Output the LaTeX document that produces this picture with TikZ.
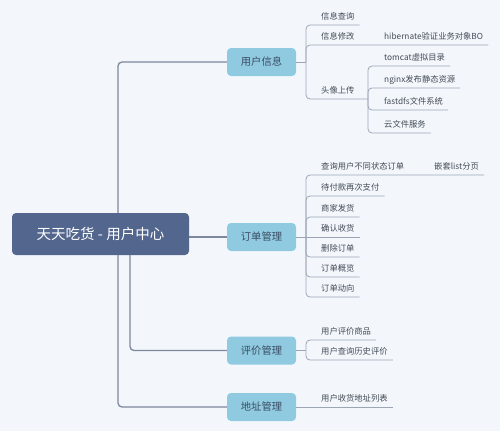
\documentclass[tikz,border=0pt]{standalone}
\usepackage{fontspec}
\setmainfont{Noto Sans CJK SC}
\definecolor{bgc}{HTML}{F3F7FC}
\definecolor{rootc}{HTML}{52668E}
\definecolor{mainc}{HTML}{8FCAE0}
\definecolor{maintext}{HTML}{3C4D63}
\definecolor{trunkc}{HTML}{7D889E}
\definecolor{twigc}{HTML}{9CA5B6}
\definecolor{leaftext}{HTML}{444B55}
\begin{document}
\begin{tikzpicture}[x=1pt,y=-1pt,
 trunk/.style={draw=trunkc, line width=1.3pt, rounded corners=4pt},
 twig/.style={draw=twigc, line width=0.8pt, rounded corners=4pt},
 rootbox/.style={fill=rootc, rounded corners=4pt, minimum width=177pt, minimum height=42pt, text=white, font=\fontsize{14.5}{16}\selectfont, inner sep=0pt},
 mainbox/.style={fill=mainc, rounded corners=4pt, minimum width=69pt, minimum height=28pt, text=maintext, font=\fontsize{10.3}{12}\selectfont, inner sep=0pt},
 leaf/.style={anchor=south west, inner xsep=5pt, inner ysep=5.5pt, text height=6pt, text depth=0pt, font=\fontsize{8.3}{10}\selectfont, text=leaftext},
]
\fill[bgc] (0,0) rectangle (500,431);
\useasboundingbox (0,0) rectangle (500,431);

% root and main nodes
\node[rootbox] (root) at (100.5,234) {天天吃货 - 用户中心};
\node[mainbox] (ui) at (261.5,62) {用户信息};
\node[mainbox] (order) at (261.5,237) {订单管理};
\node[mainbox] (eval) at (261.5,350.5) {评价管理};
\node[mainbox] (addr) at (261.5,407) {地址管理};

% trunk coordinates
\coordinate (ta) at (118,0);
\coordinate (tb) at (130,0);

\draw[trunk] (root.north -| ta) |- (ui.west);
\draw[trunk] (root.south -| ta) |- (addr.west);
\draw[trunk] (root.south -| tb) |- (eval.west);
\draw[trunk] (order.west -| root.east) -- (order.west);

% user info leaves
\coordinate (jU) at (306,62);
\coordinate (jA) at (368,99);
\node[leaf] (u1) at (316,25) {信息查询};
\node[leaf] (u2) at (316,45) {信息修改};
\node[leaf] (u2a) at (379,45) {hibernate验证业务对象BO};
\node[leaf] (u3) at (316,99) {头像上传};
\node[leaf] (a1) at (379,66) {tomcat虚拟目录};
\node[leaf] (a2) at (379,88) {nginx发布静态资源};
\node[leaf] (a3) at (379,110) {fastdfs文件系统};
\node[leaf] (a4) at (379,133) {云文件服务};

\draw[twig] (ui.east) -- (jU);
\draw[twig] (jU) |- (u1.south east);
\draw[twig] (jU) |- (u2.south east) -- (u2a.south east);
\draw[twig] (jU) |- (u3.south east) -- (jA);
\draw[twig] (jA) |- (a1.south east);
\draw[twig] (jA) |- (a2.south east);
\draw[twig] (jA) |- (a3.south east);
\draw[twig] (jA) |- (a4.south east);

% order leaves
\coordinate (jO) at (306,237);
\node[leaf] (o1) at (316,175) {查询用户不同状态订单};
\node[leaf] (o1a) at (429,175) {嵌套list分页};
\node[leaf] (o2) at (316,196) {待付款再次支付};
\node[leaf] (o3) at (316,217) {商家发货};
\node[leaf] (o4) at (316,237) {确认收货};
\node[leaf] (o5) at (316,257) {删除订单};
\node[leaf] (o6) at (316,277) {订单概览};
\node[leaf] (o7) at (316,297) {订单动向};

\draw[twig] (order.east) -- (jO);
\draw[twig] (jO) |- (o1.south east) -- (o1a.south east);
\draw[twig] (jO) |- (o2.south east);
\draw[twig] (jO) |- (o3.south east);
\draw[twig] (jO) -- (o4.south east);
\draw[twig] (jO) |- (o5.south east);
\draw[twig] (jO) |- (o6.south east);
\draw[twig] (jO) |- (o7.south east);

% evaluation leaves
\coordinate (jE) at (306,350.5);
\node[leaf] (e1) at (316,340) {用户评价商品};
\node[leaf] (e2) at (316,360) {用户查询历史评价};
\draw[twig] (eval.east) -- (jE);
\draw[twig] (jE) |- (e1.south east);
\draw[twig] (jE) |- (e2.south east);

% address leaf
\node[leaf] (d1) at (316,407) {用户收货地址列表};
\draw[twig] (addr.east) -- (d1.south east);
\end{tikzpicture}
\end{document}
